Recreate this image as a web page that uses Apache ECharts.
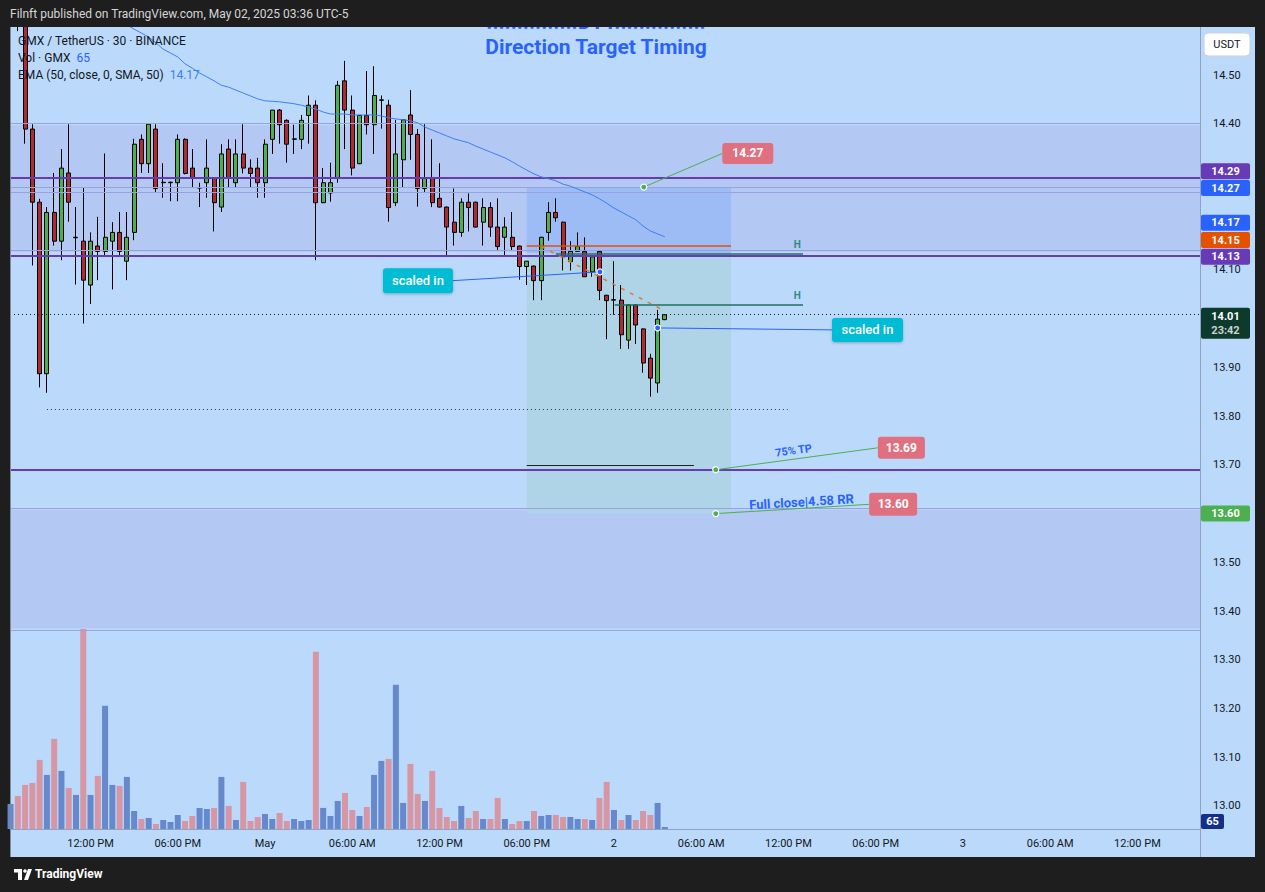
<!DOCTYPE html>
<html><head><meta charset="utf-8">
<script src="https://cdn.jsdelivr.net/npm/echarts@6/dist/echarts.min.js"></script>
<style>html,body{margin:0;padding:0;background:#1e1e1e;}#c{width:1265px;height:892px;}</style>
</head><body><div id="c"></div>
<script>
// ---------------- DATA ----------------
const FIRST_BAR = -2; // bar index of first entry (30-min bars; index 33 = May 1 00:00)
const opens = [14.70,14.74,14.70,14.389,14.239,13.887,14.218,14.159,14.299,14.166,14.159,14.069,14.149,14.138,14.159,14.177,14.118,14.177,14.368,14.318,14.389,14.279,14.279,14.279,14.368,14.309,14.268,14.279,14.288,14.229,14.348,14.279,14.338,14.309,14.309,14.279,14.368,14.428,14.407,14.368,14.368,14.417,14.438,14.238,14.258,14.288,14.488,14.428,14.318,14.417,14.398,14.448,14.438,14.238,14.326,14.418,14.378,14.267,14.288,14.247,14.229,14.198,14.177,14.239,14.239,14.198,14.228,14.188,14.167,14.167,14.149,14.107,14.108,14.078,14.177,14.218,14.198,14.117,14.138,14.138,14.096,14.138,14.048,14.038,14.038,13.956,14.028,13.979,13.919,13.868,13.998];
const highs = [14.77,14.76,14.72,14.399,14.246,14.229,14.299,14.348,14.399,14.229,14.268,14.177,14.209,14.339,14.198,14.219,14.219,14.369,14.378,14.399,14.399,14.319,14.281,14.378,14.370,14.348,14.279,14.368,14.290,14.358,14.368,14.368,14.399,14.327,14.330,14.368,14.428,14.430,14.409,14.398,14.418,14.458,14.448,14.309,14.320,14.488,14.529,14.458,14.418,14.508,14.518,14.458,14.449,14.408,14.409,14.469,14.389,14.399,14.368,14.319,14.230,14.267,14.247,14.257,14.240,14.247,14.239,14.247,14.208,14.219,14.150,14.118,14.109,14.168,14.239,14.247,14.199,14.159,14.177,14.167,14.128,14.139,14.049,14.118,14.069,14.029,14.029,13.980,13.928,14.018,14.009];
const lows = [14.68,14.59,14.359,14.109,13.859,13.848,14.150,14.120,14.199,14.070,13.990,14.030,14.079,14.129,14.060,14.129,14.079,14.161,14.299,14.299,14.259,14.248,14.241,14.241,14.296,14.268,14.229,14.248,14.179,14.219,14.269,14.269,14.298,14.269,14.248,14.248,14.338,14.359,14.320,14.338,14.348,14.359,14.120,14.237,14.240,14.279,14.348,14.294,14.317,14.378,14.338,14.390,14.199,14.231,14.269,14.326,14.230,14.259,14.229,14.228,14.129,14.150,14.168,14.179,14.187,14.150,14.168,14.140,14.129,14.140,14.080,14.069,14.038,14.038,14.160,14.199,14.099,14.099,14.137,14.086,14.086,14.038,13.958,14.008,13.938,13.938,13.948,13.889,13.840,13.848,13.997];
const closes = [14.74,14.70,14.389,14.239,13.887,14.218,14.159,14.309,14.239,14.167,14.079,14.159,14.138,14.167,14.177,14.138,14.167,14.358,14.318,14.399,14.267,14.280,14.280,14.368,14.298,14.288,14.269,14.309,14.238,14.338,14.288,14.338,14.309,14.298,14.279,14.358,14.428,14.398,14.358,14.369,14.407,14.438,14.238,14.279,14.279,14.479,14.428,14.309,14.417,14.398,14.458,14.449,14.228,14.338,14.408,14.378,14.267,14.288,14.238,14.229,14.188,14.177,14.239,14.228,14.188,14.228,14.188,14.148,14.188,14.148,14.107,14.118,14.078,14.167,14.218,14.207,14.127,14.138,14.148,14.086,14.127,14.058,14.037,14.039,13.967,14.028,13.987,13.909,13.878,13.999,14.008];
const volumes = [813,1073,1430,1495,2243,1755,2925,1885,1333,1105,6490,1105,1723,3998,1430,1398,1690,585,325,358,163,293,228,455,260,423,683,650,683,1690,748,293,1528,260,390,488,325,520,260,325,260,293,5753,683,423,910,1170,618,423,715,1755,2210,2275,4680,845,2113,1138,910,1885,683,390,260,748,358,585,325,325,1008,325,163,260,260,585,423,455,455,390,390,325,325,293,1008,1528,618,293,455,293,585,455,845,65];
const EMA_FIRST = 13;
const ema50 = [14.613,14.603,14.594,14.586,14.578,14.566,14.553,14.545,14.537,14.523,14.514,14.504,14.496,14.488,14.479,14.475,14.469,14.463,14.457,14.451,14.447,14.446,14.445,14.443,14.441,14.438,14.434,14.430,14.424,14.420,14.420,14.420,14.418,14.418,14.418,14.418,14.416,14.412,14.410,14.408,14.406,14.402,14.393,14.387,14.381,14.375,14.369,14.365,14.361,14.354,14.348,14.342,14.336,14.330,14.322,14.313,14.305,14.297,14.291,14.287,14.283,14.276,14.272,14.266,14.260,14.254,14.246,14.237,14.227,14.219,14.211,14.203,14.190,14.180,14.174,14.168];
const xTickIdx = [9,21,33,45,57,69,81,93,105,117,129,141,153];
const xTickLabels = ['12:00 PM','06:00 PM','May','06:00 AM','12:00 PM','06:00 PM','2','06:00 AM','12:00 PM','06:00 PM','3','06:00 AM','12:00 PM'];
// price ticks that are not covered by the price badges
const yTicks = [13.0,13.1,13.2,13.3,13.4,13.5,13.7,13.8,13.9,14.1,14.4,14.5];

// ---------------- STYLE ----------------
const X_MIN = -2.077, X_MAX = 161.61, Y_MIN = 12.9528, Y_MAX = 14.5985;
const UP = '#4caf50', DOWN = '#b22833', VOL_UP = '#6688cc', VOL_DOWN = '#d796a4';
const PURPLE = '#673ab7', THIN = '#9aa0e0', BLUE = '#2962ff';
const FONT = 'Roboto, "Liberation Sans", sans-serif';

const candleData = [], volData = [];
for (let i = 0; i < opens.length; i++) {
  const x = FIRST_BAR + i;
  candleData.push([x, opens[i], closes[i], lows[i], highs[i]]);
  volData.push({value: [x, volumes[i]], itemStyle: {color: closes[i] >= opens[i] ? VOL_UP : VOL_DOWN}});
}
const emaData = ema50.map((v, k) => [EMA_FIRST + k, v]);
const VOL_MAX = Math.max(...volumes);

const chart = echarts.init(document.getElementById('c'), null, {renderer: 'svg', width: 1265, height: 892});

function full(y, color, width, type) {
  return {yAxis: y, lineStyle: {color: color, width: width, type: type || 'solid'}};
}
function seg(x1, y1, x2, y2, color, width, type) {
  return [{coord: [x1, y1], lineStyle: {color: color, width: width, type: type || 'solid'}}, {coord: [x2, y2]}];
}

const option = {
  animation: false,
  backgroundColor: '#1e1e1e',
  grid: [
    {left: 10, right: 65, top: 27, bottom: 63},
    {left: 10, right: 65, top: 629, bottom: 63}
  ],
  xAxis: [
    {type: 'value', gridIndex: 0, min: X_MIN, max: X_MAX, axisLine: {show: false}, axisTick: {show: false}, splitLine: {show: false},
     axisLabel: {customValues: xTickIdx, formatter: v => xTickLabels[xTickIdx.indexOf(Math.round(v))] || '', color: '#131722', fontSize: 11, fontFamily: FONT, margin: 9}},
    {type: 'value', gridIndex: 1, min: X_MIN, max: X_MAX, show: false}
  ],
  yAxis: [
    {type: 'value', gridIndex: 0, position: 'right', min: Y_MIN, max: Y_MAX, axisLine: {show: false}, axisTick: {show: false}, splitLine: {show: false},
     axisLabel: {customValues: yTicks, formatter: v => v.toFixed(2), color: '#131722', fontSize: 11, fontFamily: FONT, margin: 13}},
    {type: 'value', gridIndex: 1, min: 0, max: VOL_MAX, show: false}
  ],
  series: [
    {type: 'line', name: 'zones', data: [], z: 1, silent: true,
     markArea: {silent: true, data: [
       [{yAxis: 14.397, itemStyle: {color: '#b3c8f2'}}, {yAxis: 14.137}],
       [{yAxis: 13.608, itemStyle: {color: '#b3c8f2'}}, {yAxis: 13.364}],
       [{xAxis: 69, yAxis: 14.27, itemStyle: {color: '#9dbcf5'}}, {xAxis: 97.1, yAxis: 14.135}],
       [{xAxis: 69, yAxis: 14.135, itemStyle: {color: '#afd3e7'}}, {xAxis: 97.1, yAxis: 13.60}]
     ]},
     markLine: {silent: true, symbol: ['none', 'none'], label: {show: false}, data: [
       full(14.397, THIN, 1), full(14.27, THIN, 1), full(14.256, THIN, 1), full(14.137, THIN, 1),
       full(13.608, THIN, 1), full(13.364, THIN, 1)
     ]}},
    {type: 'bar', name: 'Vol', xAxisIndex: 1, yAxisIndex: 1, data: volData, barWidth: 6, z: 2, silent: true},
    {type: 'candlestick', name: 'GMX', data: candleData, encode: {x: 0, y: [1, 2, 3, 4]}, barWidth: 4.5, clip: true, z: 3, silent: true,
     itemStyle: {color: UP, color0: DOWN, borderColor: '#000', borderColor0: '#000', borderWidth: 1}},
    {type: 'line', name: 'marks', data: [], z: 4, silent: true,
     markLine: {silent: true, symbol: ['none', 'none'], label: {show: false}, data: [
       full(14.29, PURPLE, 2), full(14.127, PURPLE, 2), full(13.69, PURPLE, 2),
       full(14.008, '#1b1b1b', 1, [1, 3]),
       seg(69, 14.15, 97.1, 14.15, '#e65100', 1.5),
       seg(73, 14.134, 107, 14.134, '#21705f', 1.5),
       seg(81.1, 14.028, 107, 14.028, '#21705f', 1.5),
       seg(69, 13.70, 92, 13.70, '#222', 1),
       seg(3, 13.815, 104.9, 13.815, '#333', 1, [1, 3]),
       seg(71, 14.148, 87.7, 14.018, '#e07b39', 1.5, [4, 6])
     ]}},
    {type: 'line', name: 'EMA', data: emaData, showSymbol: false, symbol: 'none', clip: true, z: 5, silent: true,
     lineStyle: {color: '#3f7ff2', width: 1}}
  ]
};
chart.setOption(option);

// ---------------- ANNOTATIONS ----------------
const P = (x, y) => chart.convertToPixel({gridIndex: 0}, [x, y]);
const G = [];
function txt(x, y, text, font, fill, align, valign, z, extra) {
  const o = {type: 'text', x: x, y: y, z: z || 60, silent: true,
    style: Object.assign({text: text, x: 0, y: 0, font: font, fill: fill, align: align || 'left', textAlign: align || 'left', verticalAlign: valign || 'middle', textVerticalAlign: valign || 'middle'}, extra || {})};
  G.push(o); return o;
}
function rect(x, y, w, h, fill, r, z, stroke, shadow) {
  const st = {fill: fill, stroke: stroke || null, lineWidth: stroke ? 1 : 0};
  if (shadow) { st.shadowBlur = 3; st.shadowColor = 'rgba(0,0,0,0.25)'; st.shadowOffsetY = 1; }
  G.push({type: 'rect', z: z || 55, silent: true, shape: {x: x, y: y, width: w, height: h, r: r || 0}, style: st});
}
function line(a, b, color, w, z) {
  G.push({type: 'line', z: z || 55, silent: true, shape: {x1: a[0], y1: a[1], x2: b[0], y2: b[1]}, style: {stroke: color, lineWidth: w || 1}});
}
function dot(p, color, z) {
  G.push({type: 'circle', z: z || 58, silent: true, shape: {cx: p[0], cy: p[1], r: 3}, style: {fill: color, stroke: '#ffffff', lineWidth: 1.2}});
}

// frame
rect(10, 27, 1245, 830, '#bbdafb', 0, -10);
line([10.5, 27], [10.5, 857], '#7d8aa0', 1, 40);
line([10, 829.5], [1200, 829.5], '#8fa3c0', 1, 40);
line([1200.5, 27], [1200.5, 857], '#8fa3c0', 1, 40);

// clipped text behind header + header
txt(596, 32, '...............DTT...............', 'bold 21px ' + FONT, BLUE, 'center', 'bottom', 50);
rect(0, 0, 1265, 27, '#1e1e1e', 0, 100);
txt(10, 14, 'Filnft published on TradingView.com, May 02, 2025 03:36 UTC-5', '12px ' + FONT, '#d6d6d6', 'left', 'middle', 101);
rect(0, 857, 1265, 35, '#1e1e1e', 0, 100);
rect(1256, 27, 9, 830, '#1e1e1e', 0, 100);
// footer logo
G.push({type: 'polygon', z: 101, silent: true, shape: {points: [[14, 869], [22, 869], [22, 880], [18, 880], [18, 872.5], [14, 872.5]]}, style: {fill: '#fff'}});
G.push({type: 'circle', z: 101, silent: true, shape: {cx: 25, cy: 871, r: 1.8}, style: {fill: '#fff'}});
G.push({type: 'polygon', z: 101, silent: true, shape: {points: [[28, 869], [32, 869], [28, 880], [24, 880]]}, style: {fill: '#fff'}});
txt(35, 874, 'TradingView', 'bold 12px ' + FONT, '#ffffff', 'left', 'middle', 101);

// legend
txt(18, 41, 'GMX / TetherUS · 30 · BINANCE', '12px ' + FONT, '#131722');
txt(18, 58, '{a|Vol · GMX}  {b|65}', '12px ' + FONT, '#131722', 'left', 'middle', 60,
  {rich: {a: {fill: '#131722', font: '12px ' + FONT}, b: {fill: BLUE, font: '12px ' + FONT}}});
txt(18, 75, '{a|EMA (50, close, 0, SMA, 50)}  {b|14.17}', '12px ' + FONT, '#131722', 'left', 'middle', 60,
  {rich: {a: {fill: '#131722', font: '12px ' + FONT}, b: {fill: '#3f7ff2', font: '12px ' + FONT}}});
// title
txt(596, 47, 'Direction Target Timing', 'bold 21px ' + FONT, BLUE, 'center');

// price tags (red boxes) with connector lines
function tag(dotXY, boxXY, w, h, text) {
  const d = P(dotXY[0], dotXY[1]), b = P(boxXY[0], boxXY[1]);
  line(d, [b[0], b[1]], UP, 1);
  dot(d, UP);
  rect(b[0], b[1] - h / 2, w, h, '#e07080', 3, 59);
  txt(b[0] + w / 2, b[1], text, 'bold 12px ' + FONT, '#ffffff', 'center', 'middle', 61);
}
tag([85.1, 14.27], [95.9, 14.339], 51, 21, '14.27');
tag([95.0, 13.69], [117.3, 13.735], 47, 22, '13.69');
tag([95.0, 13.60], [116.1, 13.619], 48, 23, '13.60');

// scaled in labels
function scaled(dotXY, boxC, w, h, side) {
  const d = P(dotXY[0], dotXY[1]), c = P(boxC[0], boxC[1]);
  const edge = side === 'left' ? [c[0] + w / 2, c[1]] : [c[0] - w / 2, c[1]];
  line(d, edge, BLUE, 1);
  G.push({type: 'circle', z: 58, silent: true, shape: {cx: d[0], cy: d[1], r: 3}, style: {fill: BLUE, stroke: '#ffffff', lineWidth: 1.2}});
  rect(c[0] - w / 2, c[1] - h / 2, w, h, '#00bcd4', 3, 59, null, true);
  txt(c[0], c[1], 'scaled in', '500 13px ' + FONT, '#ffffff', 'center', 'middle', 61);
}
scaled([79.07, 14.096], [54.04, 14.078], 70, 25, 'left');
scaled([87.0, 13.981], [115.87, 13.977], 71, 24, 'right');

// rotated notes
(function () {
  const a = P(105.7, 13.729);
  G.push({type: 'text', x: a[0], y: a[1], rotation: 0.134, z: 60, silent: true,
    style: {text: '75% TP', x: 0, y: 0, font: 'bold 11px ' + FONT, fill: BLUE, align: 'center', textAlign: 'center', verticalAlign: 'middle', textVerticalAlign: 'middle'}});
  const b = P(106.8, 13.624);
  G.push({type: 'text', x: b[0], y: b[1], rotation: 0.06, z: 60, silent: true,
    style: {text: 'Full close|4.58 RR', x: 0, y: 0, font: 'bold 13px ' + FONT, fill: BLUE, align: 'center', textAlign: 'center', verticalAlign: 'middle', textVerticalAlign: 'middle'}});
  const h1 = P(106.2, 14.153), h2 = P(106.2, 14.047);
  txt(h1[0], h1[1], 'H', 'bold 10px ' + FONT, '#2e8b80', 'center');
  txt(h2[0], h2[1], 'H', 'bold 10px ' + FONT, '#2e8b80', 'center');
})();

// axis badges
const badges = [
  {p: 14.29, dy: -6, c: PURPLE, t: '14.29'},
  {p: 14.27, dy: 1, c: BLUE, t: '14.27'},
  {p: 14.17, dy: -13, c: BLUE, t: '14.17'},
  {p: 14.15, dy: -5.5, c: '#e65100', t: '14.15'},
  {p: 14.13, dy: 1.5, c: PURPLE, t: '14.13'},
  {p: 13.60, dy: 0, c: UP, t: '13.60'}
];
badges.forEach(b => {
  const y = P(0, b.p)[1] + b.dy;
  rect(1201, y - 8, 49, 16, b.c, 2, 70);
  txt(1225.5, y, b.t, 'bold 11px ' + FONT, '#ffffff', 'center', 'middle', 71);
});
(function () {
  const y = P(0, closes[closes.length - 1])[1];
  rect(1201, y - 7, 49, 31, '#0c3b2e', 2, 70);
  txt(1225.5, y + 1.5, '14.01', 'bold 11px ' + FONT, '#ffffff', 'center', 'middle', 71);
  txt(1225.5, y + 16, '23:42', 'bold 11px ' + FONT, '#d0d0d0', 'center', 'middle', 71);
  rect(1201, 814, 23, 15, '#12308a', 2, 70);
  txt(1212.5, 821.5, String(volumes[volumes.length - 1]), 'bold 11px ' + FONT, '#ffffff', 'center', 'middle', 71);
  rect(1204, 33, 46, 23, '#ffffff', 4, 70, '#c8d0dc');
  txt(1227, 44.5, 'USDT', '11px ' + FONT, '#131722', 'center', 'middle', 71);
})();

chart.setOption({graphic: {elements: G}});
</script>
</body></html>
